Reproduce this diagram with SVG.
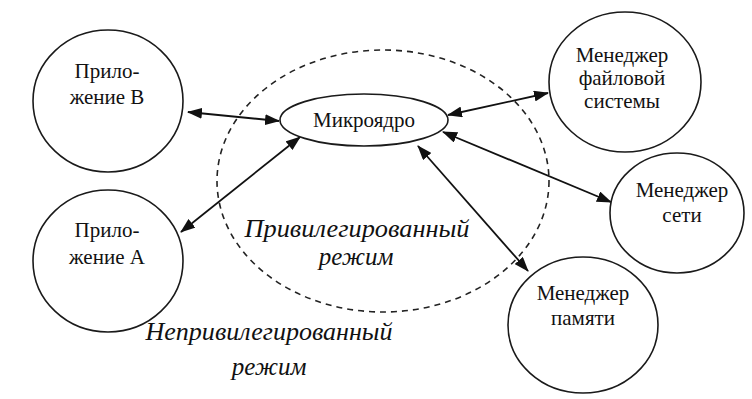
<svg xmlns="http://www.w3.org/2000/svg" width="752" height="399" viewBox="0 0 752 399">
<defs>
<style>
.node{fill:#fff;stroke:#1a1a1a;stroke-width:1.6}
.lbl{font-family:"Liberation Serif","Times New Roman",serif;font-size:21px;fill:#111;text-anchor:middle}
.mode{font-family:"Liberation Serif","Times New Roman",serif;font-style:italic;font-size:25px;fill:#111;text-anchor:middle}
.conn{stroke:#111;stroke-width:1.8;fill:none;marker-start:url(#ah);marker-end:url(#ah)}
.dash{fill:none;stroke:#222;stroke-width:1.6;stroke-dasharray:6 5}
</style>
<marker id="ah" markerUnits="userSpaceOnUse" markerWidth="15" markerHeight="11" refX="14" refY="5.5" orient="auto-start-reverse">
<path d="M0,0 L15,5.5 L0,11 z" fill="#111"/>
</marker>
</defs>
<rect width="752" height="399" fill="#fff"/>
<g id="privileged-zone">
<ellipse class="dash" cx="383" cy="181" rx="166" ry="131"/>
<text class="mode" x="357" y="237" textLength="225" lengthAdjust="spacingAndGlyphs">Привилегированный</text>
<text class="mode" x="356" y="265">режим</text>
</g>
<g id="unprivileged-label">
<text class="mode" x="269" y="340" textLength="247" lengthAdjust="spacingAndGlyphs">Непривилегированный</text>
<text class="mode" x="269" y="375">режим</text>
</g>
<g id="connectors">
<line class="conn" x1="188" y1="112" x2="279" y2="121"/>
<line class="conn" x1="181" y1="232" x2="300" y2="137"/>
<line class="conn" x1="448" y1="115" x2="548" y2="93"/>
<line class="conn" x1="443" y1="132" x2="611" y2="202"/>
<line class="conn" x1="418" y1="146" x2="528" y2="271"/>
</g>
<g id="microkernel">
<ellipse class="node" cx="364" cy="120" rx="84" ry="26"/>
<text class="lbl" x="364" y="127">Микроядро</text>
</g>
<g id="app-b">
<ellipse class="node" cx="108" cy="101" rx="75" ry="71"/>
<text class="lbl" x="107" y="78">Прило-</text>
<text class="lbl" x="107" y="104">жение В</text>
</g>
<g id="app-a">
<ellipse class="node" cx="108" cy="261" rx="75" ry="71"/>
<text class="lbl" x="107" y="237">Прило-</text>
<text class="lbl" x="107" y="264">жение А</text>
</g>
<g id="fs-manager">
<ellipse class="node" cx="625" cy="82" rx="76" ry="70"/>
<text class="lbl" x="622" y="62">Менеджер</text>
<text class="lbl" x="622" y="85">файловой</text>
<text class="lbl" x="622" y="108">системы</text>
</g>
<g id="net-manager">
<ellipse class="node" cx="677" cy="213" rx="67" ry="60"/>
<text class="lbl" x="682" y="197">Менеджер</text>
<text class="lbl" x="682" y="222">сети</text>
</g>
<g id="mem-manager">
<ellipse class="node" cx="583" cy="325" rx="75" ry="68"/>
<text class="lbl" x="583" y="300">Менеджер</text>
<text class="lbl" x="583" y="325">памяти</text>
</g>
</svg>
